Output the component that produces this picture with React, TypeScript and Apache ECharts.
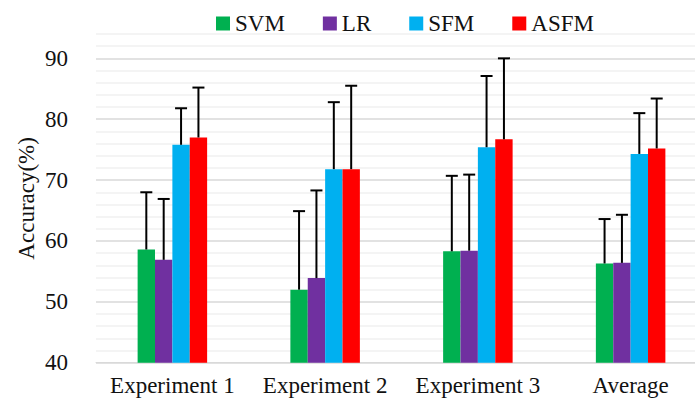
import React, { useEffect, useRef } from "react";
import * as echarts from "echarts";

const categories = ["Experiment 1", "Experiment 2", "Experiment 3", "Average"];
const seriesNames = ["SVM", "LR", "SFM", "ASFM"];
const svmValues = [58.6, 52.0, 58.3, 56.3];
const lrValues = [56.9, 53.9, 58.4, 56.4];
const sfmValues = [75.8, 71.8, 75.4, 74.3];
const asfmValues = [77.0, 71.8, 76.7, 75.2];
const svmErrors = [9.4, 12.9, 12.4, 7.3];
const lrErrors = [10.0, 14.4, 12.5, 7.9];
const sfmErrors = [6.0, 11.0, 11.7, 6.7];
const asfmErrors = [8.2, 13.7, 13.3, 8.2];
const colors = ["#00B050", "#7030A0", "#00B0F0", "#FF0000"];

const FONT = '"Times New Roman", "Liberation Serif", serif';
const GAP = 0.545;

export default function App() {
  const ref = useRef<HTMLDivElement>(null);
  useEffect(() => {
    document.body.style.margin = "0";
    if (!ref.current) return;
    const chart = echarts.init(ref.current, null, { renderer: "svg" });
    const values = [svmValues, lrValues, sfmValues, asfmValues];
    const errors = [svmErrors, lrErrors, sfmErrors, asfmErrors];
    const errData: number[][] = [];
    values.forEach((vals, si) => {
      vals.forEach((v, ci) => errData.push([ci, si, v, errors[si][ci]]));
    });
    chart.setOption({
      animation: false,
      textStyle: { fontFamily: FONT },
      legend: {
        data: seriesNames,
        left: 211,
        top: 7,
        itemWidth: 14,
        itemHeight: 14,
        itemGap: 38,
        icon: "rect",
        textStyle: { fontFamily: FONT, fontSize: 23, color: "#111" },
      },
      grid: { left: 96, top: 34, width: 611, height: 328.7, outerBoundsMode: "none", containLabel: false },
      xAxis: {
        type: "category",
        data: categories,
        axisLine: { show: true, lineStyle: { color: "#d9d9d9", width: 1 } },
        axisTick: { show: false },
        axisLabel: { fontFamily: FONT, fontSize: 23, color: "#111", margin: 11, interval: 0 },
      },
      yAxis: {
        type: "value",
        min: 40,
        max: 94,
        interval: 2,
        name: "Accuracy(%)",
        nameLocation: "middle",
        nameGap: 58,
        nameMoveOverlap: false,
        nameTextStyle: { fontFamily: FONT, fontSize: 23, color: "#111" },
        axisLine: { show: false },
        axisTick: { show: false },
        axisLabel: {
          fontFamily: FONT,
          fontSize: 23,
          color: "#111",
          margin: 28,
          formatter: (v: number) => (Math.round(v) % 10 === 0 ? String(v) : ""),
        },
        splitLine: {
          show: true,
          lineStyle: { color: ["#d9d9d9", "#f0f0f0", "#f0f0f0", "#f0f0f0", "#f0f0f0"], width: 1.5 },
        },
      },
      series: [
        ...seriesNames.map((name, i) => ({
          name,
          type: "bar",
          data: values[i],
          barGap: "0%",
          barCategoryGap: GAP * 100 + "%",
          itemStyle: { color: colors[i] },
        })),
        {
          type: "custom",
          name: "err",
          data: errData,
          encode: { x: 0, y: 2 },
          z: 10,
          renderItem: (params: any, api: any) => {
            const cat = api.value(0);
            const si = api.value(1);
            const mean = api.value(2);
            const err = api.value(3);
            const base = api.coord([cat, mean]);
            const top = api.coord([cat, mean + err]);
            const band = api.size([1, 0])[0];
            const bw = (band * (1 - GAP)) / 4;
            const x = base[0] + (si - 1.5) * bw;
            return {
              type: "group",
              children: [
                { type: "line", shape: { x1: x, y1: base[1], x2: x, y2: top[1] }, style: { stroke: "#000", lineWidth: 2 } },
                { type: "line", shape: { x1: x - 6, y1: top[1], x2: x + 6, y2: top[1] }, style: { stroke: "#000", lineWidth: 2 } },
              ],
            };
          },
        },
      ],
    });
    return () => chart.dispose();
  }, []);
  return <div ref={ref} style={{ width: 695, height: 407 }} />;
}
